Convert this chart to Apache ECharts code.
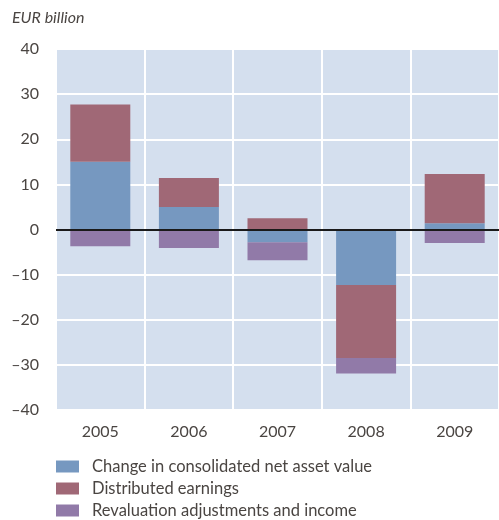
<!DOCTYPE html>
<html>
<head>
<meta charset="utf-8">
<script src="https://cdn.jsdelivr.net/npm/echarts@6/dist/echarts.min.js"></script>
<style>
  html, body { margin: 0; padding: 0; background: #fff; }
  #main { width: 499px; height: 520px; }
</style>
</head>
<body>
<div id="main"></div>
<script>
// years on the x axis
var years = ['2005', '2006', '2007', '2008', '2009'];
// EUR billion
var netAssetChange = [15.0, 5.0, -2.8, -12.3, 1.4];
var distributedEarnings = [12.7, 6.4, 2.5, -16.2, 10.9];
var revaluationAdj = [-3.7, -4.1, -4.0, -3.4, -3.0];
var yTicks = { min: -40, max: 40, step: 10 };

var fontName = 'Lato';
var textColor = '#4a4542';

var chart = echarts.init(document.getElementById('main'));

chart.setOption({
    animation: false,
    textStyle: { fontFamily: fontName },
    graphic: [{
        type: 'text',
        left: 12,
        top: 10,
        style: {
            text: 'EUR billion',
            font: 'italic 16px ' + fontName,
            fill: textColor
        }
    }],
    grid: {
        left: 56,
        right: -2,
        top: 49,
        bottom: 110,
        show: true,
        backgroundColor: '#d4dfee',
        borderWidth: 0
    },
    legend: {
        orient: 'vertical',
        left: 56,
        top: 458,
        padding: 0,
        height: 80,
        itemWidth: 23,
        itemHeight: 12,
        itemGap: 5,
        icon: 'rect',
        textStyle: { fontSize: 16.5, color: textColor, padding: [0, 0, 0, 8] },
        data: ['Change in consolidated net asset value', 'Distributed earnings', 'Revaluation adjustments and income']
    },
    xAxis: {
        type: 'category',
        data: years,
        axisLine: { show: false },
        axisTick: { show: false },
        axisLabel: { fontSize: 16, color: textColor, margin: 14 },
        splitLine: { show: true, interval: 0, lineStyle: { color: '#ffffff', width: 2 } }
    },
    yAxis: {
        type: 'value',
        min: yTicks.min,
        max: yTicks.max,
        interval: yTicks.step,
        axisLine: { show: false },
        axisTick: { show: false },
        axisLabel: {
            fontSize: 16,
            color: textColor,
            margin: 17,
            formatter: function (v) { return String(v).replace('-', '\u2013'); }
        },
        splitLine: { show: true, lineStyle: { color: '#ffffff', width: 2 } }
    },
    series: [{
        name: 'Change in consolidated net asset value',
        type: 'bar',
        stack: 'total',
        barWidth: 60,
        itemStyle: { color: '#7698c0' },
        data: netAssetChange,
        markLine: {
            silent: true,
            symbol: 'none',
            label: { show: false },
            lineStyle: { color: '#1a1a1a', width: 2, type: 'solid' },
            data: [{ yAxis: 0 }]
        }
    }, {
        name: 'Distributed earnings',
        type: 'bar',
        stack: 'total',
        barWidth: 60,
        itemStyle: { color: '#a06876' },
        data: distributedEarnings
    }, {
        name: 'Revaluation adjustments and income',
        type: 'bar',
        stack: 'total',
        barWidth: 60,
        itemStyle: { color: '#917aa8' },
        data: revaluationAdj
    }]
});
</script>
</body>
</html>
